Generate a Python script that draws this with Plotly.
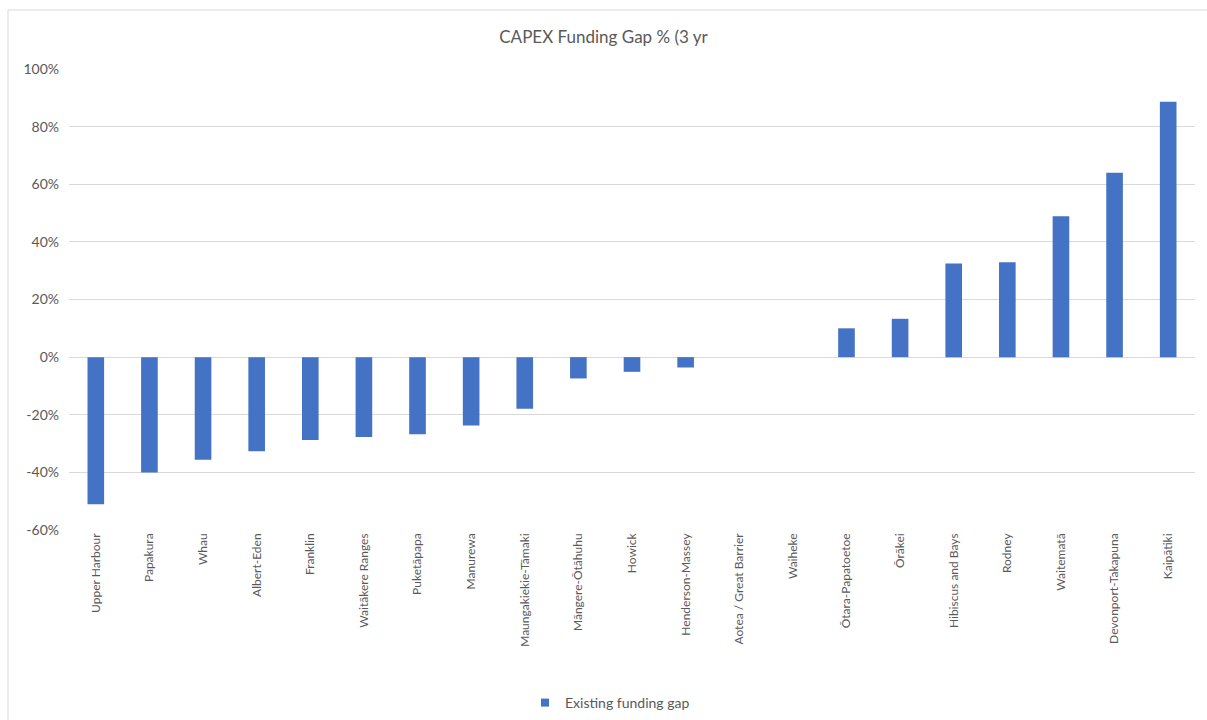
import plotly.graph_objects as go

categories = ["Upper Harbour", "Papakura", "Whau", "Albert-Eden", "Franklin",
              "Waitākere Ranges", "Puketāpapa", "Manurewa", "Maungakiekie-Tāmaki",
              "Māngere-Ōtāhuhu", "Howick", "Henderson-Massey", "Aotea / Great Barrier",
              "Waiheke", "Ōtara-Papatoetoe", "Ōrākei", "Hibiscus and Bays", "Rodney",
              "Waitematā", "Devonport-Takapuna", "Kaipātiki"]

gap_values = [-51.1, -40.0, -35.6, -32.7, -28.8, -27.7, -26.8, -23.7, -17.9,
              -7.4, -5.1, -3.6, 0.0, 0.0, 10.0, 13.3, 32.5, 32.9, 48.9, 64.0, 88.6]

y_ticks = [-60, -40, -20, 0, 20, 40, 60, 80, 100]
y_tick_labels = ["-60%", "-40%", "-20%", "0%", "20%", "40%", "60%", "80%", "100%"]

FONT = "Lato, 'Open Sans', sans-serif"
BAR_COLOR = "#4472C4"
W, H = 1207, 720
L, R, T, B = 69, 12, 69, 190
pw, ph = W - L - R, H - T - B

fig = go.Figure()
fig.add_trace(go.Bar(
    x=categories, y=gap_values, name="Existing funding gap",
    marker=dict(color=BAR_COLOR, line=dict(width=0)),
    showlegend=False,
))
# legend entry with a small square swatch
fig.add_trace(go.Scatter(
    x=[None], y=[None], mode="markers", name="Existing funding gap",
    marker=dict(symbol="square", size=8, color=BAR_COLOR),
    showlegend=True,
))

fig.update_layout(
    width=W, height=H,
    margin=dict(l=L, r=R, t=T, b=B, autoexpand=False),
    paper_bgcolor="white", plot_bgcolor="white",
    bargap=0.69,
    title=dict(text="CAPEX Funding Gap % (3 yr", x=0.5, xanchor="center",
               y=1 - 37 / H, yanchor="middle",
               font=dict(family=FONT, size=17, color="#595959")),
    font=dict(family=FONT, size=12, color="#595959"),
    xaxis=dict(tickangle=-90, showgrid=False, ticks="", showline=False,
               automargin=False,
               tickfont=dict(family=FONT, size=12, color="#595959")),
    yaxis=dict(range=[-60, 100], tickvals=y_ticks, ticktext=y_tick_labels,
               showgrid=True, gridcolor="#d9d9d9", gridwidth=1,
               zeroline=True, zerolinecolor="#d9d9d9", zerolinewidth=1,
               ticks="", showline=False, automargin=False,
               ticklabelstandoff=9,
               tickfont=dict(family=FONT, size=14, color="#595959")),
    legend=dict(orientation="h", x=0.5 - 22 / pw, xanchor="center",
                y=-(703 - (T + ph)) / ph, yanchor="middle",
                font=dict(family=FONT, size=14, color="#595959"),
                itemwidth=30),
)

# chart border
fig.add_shape(type="rect", xref="paper", yref="paper",
              x0=(8 - L) / pw, x1=(W + 5 - L) / pw,
              y0=(T + ph - (H + 5)) / ph, y1=(T + ph - 10) / ph,
              line=dict(color="#d9d9d9", width=1), layer="below")

fig.write_html("out.html", config={"displayModeBar": False},
               post_script="document.body.style.margin='0';document.body.style.overflow='hidden';")
